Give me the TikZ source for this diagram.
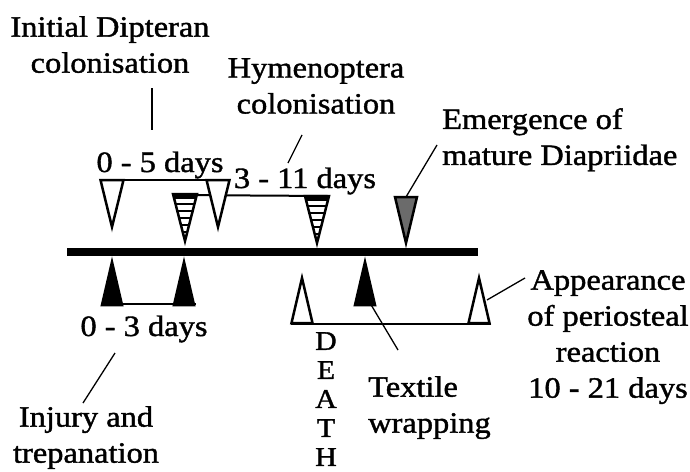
\documentclass[tikz,border=0pt]{standalone}
\usepackage{fontspec}
\setmainfont{Liberation Serif}[FakeStretch=1.1,FakeBold=1.3]
\begin{document}
\begin{tikzpicture}[x=1pt,y=-1pt,
  lbl/.style={font=\fontsize{29.5}{36}\selectfont, inner sep=0pt},
  tri/.style={line width=2.5pt, line join=miter, draw=black},
  lead/.style={line width=1.3pt},
  brk/.style={line width=2.5pt},
  downtri/.pic={\draw[tri, fill=white] (-11.5,0) -- (11.5,0) -- (0,47) -- cycle;},
  graytri/.pic={\draw[tri, fill=black!58] (-11,0) -- (11,0) -- (0,46) -- cycle;},
  stripetri/.pic={
    \begin{scope}
      \clip (-12,0) -- (12,0) -- (0,47) -- cycle;
      \fill[white] (-12,0) rectangle (12,47);
      \draw[line width=5pt] (-12,2) -- (12,2);
      \foreach \yy in {10,17,24,31,38} \draw[line width=1.8pt] (-12,\yy) -- (12,\yy);
    \end{scope}
    \draw[tri] (-12,0) -- (12,0) -- (0,47) -- cycle;},
  uptri/.pic={\draw[tri, fill=white] (-10.5,0) -- (10.5,0) -- (0,-45) -- cycle;},
  blacktri/.pic={\draw[tri, fill=black] (-10,0) -- (10,0) -- (0,-43) -- cycle;}
]
\useasboundingbox (0,0) rectangle (690,471);

% main time bar
\coordinate (barL) at (67,252);
\coordinate (barR) at (478,252);
\draw[line width=8pt] (barL) -- (barR);

% brackets (drawn first, triangles on top)
\coordinate (t1L) at (100,180);
\coordinate (t1R) at (229,180);
\draw[brk] (t1L) -- (t1R);
\coordinate (hL) at (173,195);
\coordinate (hR) at (328,196);
\draw[line width=2pt] (hL) -- (hR);
\coordinate (b1L) at (101,304);
\coordinate (b1R) at (196,304);
\draw[line width=2pt] (b1L) -- (b1R);
\coordinate (b2L) at (291,324);
\coordinate (b2R) at (491,324);
\draw[line width=2pt] (b2L) -- (b2R);

% triangles above the bar
\coordinate (w1) at (112,180);
\coordinate (s1) at (185,194);
\coordinate (w2) at (218,180);
\coordinate (s2) at (317,196);
\coordinate (g1) at (406,197);
\pic at (w1) {downtri};
\pic at (s1) {stripetri};
\pic at (w2) {downtri};
\pic at (s2) {stripetri};
\pic at (g1) {graytri};

% triangles below the bar
\coordinate (k1) at (112,305);
\coordinate (k2) at (184,305);
\coordinate (u1) at (302,323);
\coordinate (k3) at (365,305);
\coordinate (u2) at (479,323);
\pic at (k1) {blacktri};
\pic at (k2) {blacktri};
\pic at (u1) {uptri};
\pic at (k3) {blacktri};
\pic at (u2) {uptri};

% labels
\node[lbl, align=center, anchor=north] (dip) at (110,16) {Initial Dipteran\\colonisation};
\node[lbl, align=center, anchor=north] (hym) at (316,58) {Hymenoptera\\colonisation};
\node[lbl, anchor=base] (d05) at (160,172) {0 - 5 days};
\node[lbl, anchor=base] (d311) at (305,188) {3 - 11 days};
\node[lbl, align=left, anchor=north west] (emg) at (442,108) {Emergence of\\mature Diapriidae};
\node[lbl, anchor=base] (d03) at (144,336) {0 - 3 days};
\node[lbl, align=center, anchor=north] (inj) at (86,406) {Injury and\\trepanation};
\node[lbl, align=left, anchor=north west] (tex) at (368,376) {Textile\\wrapping};
\node[lbl, align=center, anchor=north] (app) at (608,270) {Appearance\\of periosteal\\reaction\\10 - 21 days};
\node[lbl, font=\fontsize{27}{29}\selectfont, align=center, anchor=north] (death) at (326,332) {D\\E\\A\\T\\H};

% leader lines
\coordinate (dipA) at (152,88);
\coordinate (dipB) at (152,130);
\draw[lead] (dipA) -- (dipB);
\coordinate (hymA) at (302,135);
\coordinate (hymB) at (288,163);
\draw[lead] (hymA) -- (hymB);
\coordinate (emgA) at (437,145);
\draw[lead] (emgA) -- (g1);
\coordinate (injA) at (115,353);
\coordinate (injB) at (83,403);
\draw[lead] (injA) -- (injB);
\coordinate (texA) at (367,298);
\coordinate (texB) at (398,350);
\draw[lead] (texA) -- (texB);
\coordinate (appA) at (487,300);
\coordinate (appB) at (525,278);
\draw[lead] (appA) -- (appB);
\end{tikzpicture}
\end{document}
